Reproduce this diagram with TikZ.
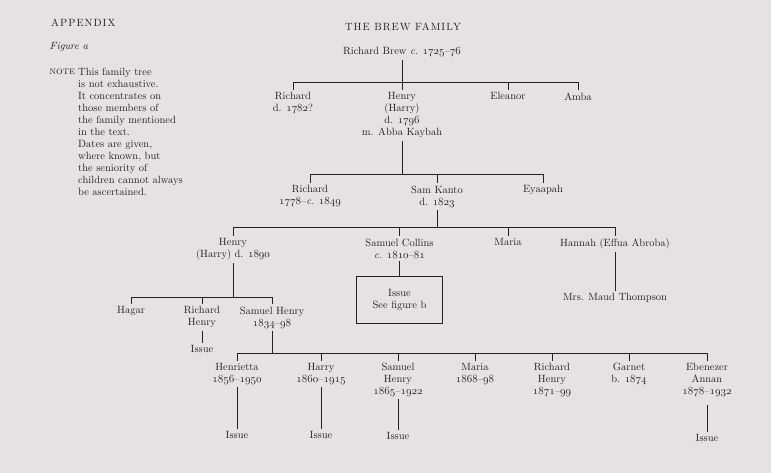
\documentclass[tikz,border=0pt]{standalone}
\usepackage{fontspec}
\newfontfamily\spacedfont{lmroman10-regular.otf}[LetterSpace=10]
\definecolor{paper}{RGB}{230,226,225}
\definecolor{ink}{RGB}{38,32,32}
\newcommand{\yr}[1]{{\usefont{OML}{cmm}{m}{it}#1}}
\begin{document}
\begin{tikzpicture}[x=1pt,y=-1pt,
	every node/.style={inner sep=2.5pt,text=ink,font=\fontsize{10.5}{12}\selectfont},
	heading/.style={font=\fontsize{10.5}{12}\spacedfont},
	person/.style={align=center,anchor=north},
	line/.style={draw=ink,line width=1pt}]
\fill[paper] (0,0) rectangle (771,473);
\useasboundingbox (0,0) rectangle (771,473);
\node[heading,anchor=base west] (appendix) at (48.5,26.5) {APPENDIX};
\node[anchor=base west,font=\fontsize{10.5}{12}\selectfont\itshape] (figa) at (47,50) {Figure a};
\node[anchor=base west] (notelabel) at (47,74.7) {\textsc{note}};
\node[anchor=north west,align=left] (note) at (75.5,65) {This family tree\\is not exhaustive.\\It concentrates on\\those members of\\the family mentioned\\in the text.\\Dates are given,\\where known, but\\the seniority of\\children cannot always\\be ascertained.};
\node[heading,anchor=base] (title) at (403,30.5) {THE BREW FAMILY};
\node[person] (brew) at (402,45) {Richard Brew \textit{c.} \yr{1725}\textendash\yr{76}};
\node[person] (rich1) at (293,90) {Richard\\d. \yr{1782}?};
\node[person] (henry1) at (402,90) {Henry\\(Harry)\\d. \yr{1796}\\m. Abba Kaybah};
\node[person] (eleanor) at (508,90) {Eleanor};
\node[person] (amba) at (578,90) {Amba};
\node[person] (rich2) at (310,183) {Richard\\\yr{1778}\textendash\textit{c.} \yr{1849}};
\node[person] (samk) at (437,183) {Sam Kanto\\d. \yr{1823}};
\node[person] (eyaa) at (543,183) {Eyaapah};
\node[person] (henry2) at (233,236) {Henry\\(Harry) d. \yr{1890}};
\node[person] (samc) at (399.5,236) {Samuel Collins\\\textit{c.} \yr{1810}\textendash\yr{81}};
\node[person] (maria1) at (508,236) {Maria};
\node[person] (hannah) at (615,236) {Hannah (Effua Abroba)};
\node[line,align=center,minimum width=86pt,minimum height=47pt] (seeb) at (399.5,299.5) {Issue\\See figure b};
\node[person] (maud) at (615,291) {Mrs. Maud Thompson};
\node[person] (hagar) at (131,304) {Hagar};
\node[person] (richh) at (202,304) {Richard\\Henry};
\node[person] (samh) at (272,304) {Samuel Henry\\\yr{1834}\textendash\yr{98}};
\node[person] (issue1) at (202,343) {Issue};
\node[person] (henrietta) at (237,360.5) {Henrietta\\\yr{1856}\textendash\yr{1950}};
\node[person] (harry) at (321,360.5) {Harry\\\yr{1860}\textendash\yr{1915}};
\node[person] (samh2) at (398,360.5) {Samuel\\Henry\\\yr{1865}\textendash\yr{1922}};
\node[person] (maria2) at (475,360.5) {Maria\\\yr{1868}\textendash\yr{98}};
\node[person] (richh2) at (552,360.5) {Richard\\Henry\\\yr{1871}\textendash\yr{99}};
\node[person] (garnet) at (629,360.5) {Garnet\\b. \yr{1874}};
\node[person] (eben) at (707,360.5) {Ebenezer\\Annan\\\yr{1878}\textendash\yr{1932}};
\node[person] (issue2) at (237,429) {Issue};
\node[person] (issue3) at (321,429) {Issue};
\node[person] (issue4) at (398,430) {Issue};
\node[person] (issue5) at (707,432) {Issue};
\coordinate (bar1) at (0,83);
\coordinate (bar2) at (0,175);
\coordinate (bar3) at (0,228);
\coordinate (bar4) at (0,297);
\coordinate (bar5) at (0,353);
\draw[line] (brew.south) -- (brew.south |- bar1);
\draw[line] (rich1.north) |- (bar1 -| amba.north) -- (amba.north);
\foreach \n in {henry1,eleanor}
	\draw[line] (\n.north) -- (\n.north |- bar1);
\draw[line] (henry1.south) -- (henry1.south |- bar2);
\draw[line] (rich2.north) |- (bar2 -| eyaa.north) -- (eyaa.north);
\draw[line] (samk.north) -- (samk.north |- bar2);
\draw[line] (samk.south) -- (samk.south |- bar3);
\draw[line] (henry2.north) |- (bar3 -| hannah.north) -- (hannah.north);
\foreach \n in {samc,maria1}
	\draw[line] (\n.north) -- (\n.north |- bar3);
\draw[line] (samc.south) -- (seeb.north);
\draw[line] (hannah.south) -- (maud.north);
\draw[line] (henry2.south) -- (henry2.south |- bar4);
\draw[line] (hagar.north) |- (bar4 -| samh.north) -- (samh.north);
\draw[line] (richh.north) -- (richh.north |- bar4);
\draw[line] (richh.south) -- (issue1.north);
\draw[line] (samh.south) -- (samh.south |- bar5);
\draw[line] (henrietta.north) |- (bar5 -| eben.north) -- (eben.north);
\foreach \n in {harry,samh2,maria2,richh2,garnet}
	\draw[line] (\n.north) -- (\n.north |- bar5);
\draw[line] (henrietta.south) -- (issue2.north);
\draw[line] (harry.south) -- (issue3.north);
\draw[line] (samh2.south) -- (issue4.north);
\draw[line,shorten <=6pt] (eben.south) -- (issue5.north);
\end{tikzpicture}
\end{document}
